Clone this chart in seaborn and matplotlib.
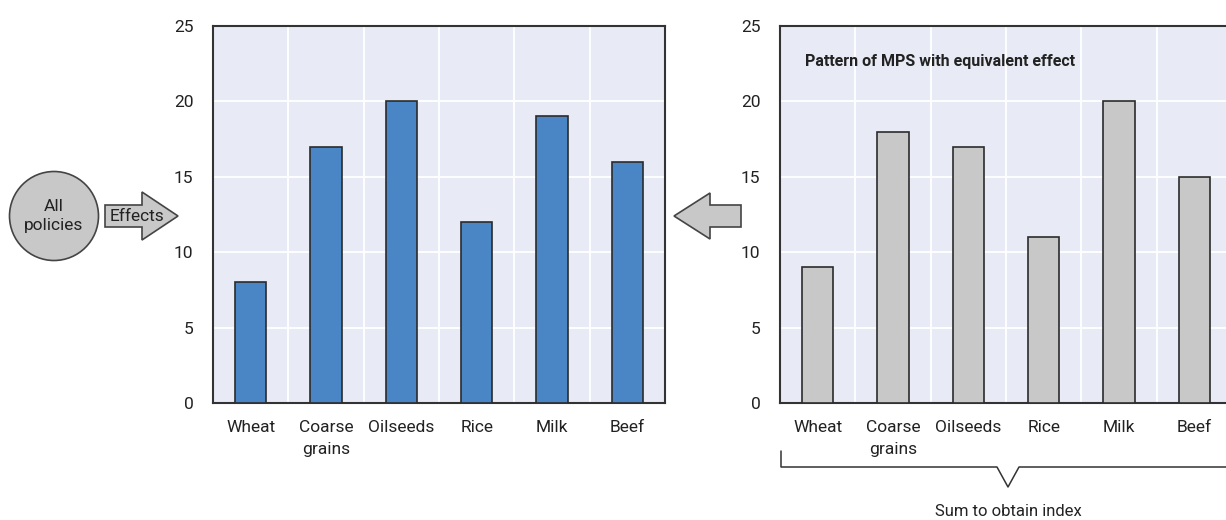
import matplotlib
matplotlib.use("Agg")
import matplotlib.pyplot as plt
import seaborn as sns
import pandas as pd
from matplotlib.patches import Polygon, Ellipse
from matplotlib.lines import Line2D

# data
categories = ["Wheat", "Coarse\ngrains", "Oilseeds", "Rice", "Milk", "Beef"]
effects = [8, 17, 20, 12, 19, 16]
mps_equiv = [9, 18, 17, 11, 20, 15]
y_ticks = [0, 5, 10, 15, 20, 25]

BLUE = "#4a86c6"
GREY = "#c8c8c8"
EDGE = "#2b2b2b"
BG = "#e8ebf6"

sns.set_style("white", {"axes.facecolor": BG})
plt.rcParams['font.family'] = ['Liberation Sans Narrow', 'Roboto', 'DejaVu Sans']
plt.rcParams['font.size'] = 12

W, H = 1226, 520
fig = plt.figure(figsize=(W / 100, H / 100), dpi=100)


def px(x, y):
    return (x / W, 1 - y / H)


def make_panel(left_px, values, color):
    ax = fig.add_axes([left_px / W, (H - 403) / H, 452 / W, 377 / H])
    df = pd.DataFrame({"cat": categories, "val": values})
    sns.barplot(data=df, x="cat", y="val", color=color, width=0.42,
                edgecolor=EDGE, linewidth=1.2, saturation=1, ax=ax, zorder=3)
    ax.set_xlim(-0.5, len(categories) - 0.5)
    ax.set_ylim(0, 25)
    ax.set_yticks(y_ticks)
    ax.set_xlabel("")
    ax.set_ylabel("")
    ax.set_xticks([i + 0.5 for i in range(len(categories) - 1)], minor=True)
    ax.grid(axis="y", color="white", linewidth=1.3, zorder=0)
    ax.grid(axis="x", which="minor", color="white", linewidth=1.3, zorder=0)
    ax.set_axisbelow(True)
    ax.tick_params(axis="x", which="major", length=0, pad=12, labelsize=12.5, colors="#222222")
    ax.tick_params(axis="x", which="minor", direction="in", length=4, color="#555555")
    ax.tick_params(axis="y", direction="in", length=6, pad=14, labelsize=12.5,
                   colors="#222222", color="#555555")
    for lab in ax.get_xticklabels():
        lab.set_linespacing(1.6)
    for s in ax.spines.values():
        s.set_color("#333333")
        s.set_linewidth(1.5)
    return ax


ax1 = make_panel(213, effects, BLUE)
ax2 = make_panel(780, mps_equiv, GREY)
ax2.text(0.055, 0.905, "Pattern of MPS with equivalent effect", transform=ax2.transAxes,
         fontsize=11.5, fontweight="bold", color="#222222", ha="left", va="center")

# "All policies" circle
cx, cy = px(54, 216)
fig.patches.append(Ellipse((cx, cy), 89 / W, 89 / H, transform=fig.transFigure,
                           facecolor=GREY, edgecolor="#444444", linewidth=1.2))
fig.text(cx, cy, "All\npolicies", ha="center", va="center", fontsize=12.5,
         color="#222222", linespacing=1.4)

# "Effects" arrow pointing right
right_arrow = [px(105, 205), px(142, 205), px(142, 192), px(178, 216),
               px(142, 240), px(142, 227), px(105, 227)]
fig.patches.append(Polygon(right_arrow, closed=True, transform=fig.transFigure,
                           facecolor=GREY, edgecolor="#444444", linewidth=1.2))
fig.text(*px(110, 216), "Effects", ha="left", va="center", fontsize=12.5, color="#222222")

# arrow between the panels pointing left
left_arrow = [px(741, 205), px(710, 205), px(710, 193), px(674, 216),
              px(710, 239), px(710, 227), px(741, 227)]
fig.patches.append(Polygon(left_arrow, closed=True, transform=fig.transFigure,
                           facecolor=GREY, edgecolor="#444444", linewidth=1.2))

# bracket under the right panel
bracket = [px(781, 451), px(781, 467), px(997, 467), px(1008, 487),
           px(1019, 467), px(1226, 467)]
xs, ys = zip(*bracket)
fig.lines.append(Line2D(xs, ys, transform=fig.transFigure, color="#333333", linewidth=1.1))
fig.text(*px(1008, 512), "Sum to obtain index", ha="center", va="center",
         fontsize=12, color="#222222")

plt.savefig("out.png", dpi=100)
